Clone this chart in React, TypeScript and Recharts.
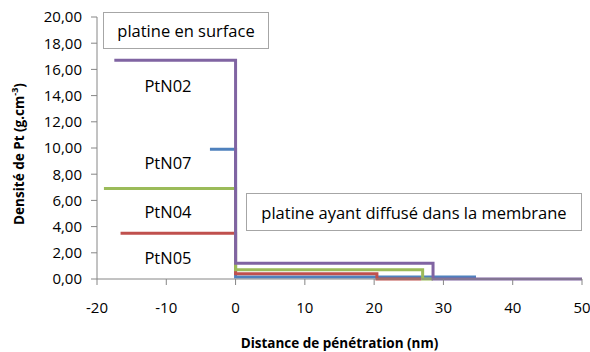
import { LineChart, Line, XAxis, YAxis } from 'recharts';

// distance (nm) and density (g.cm-3) for each sample
const ptn02X = [-17.5, 0, 0, 28.5, 28.5, 50];
const ptn02Y = [16.7, 16.7, 1.2, 1.2, 0, 0];
const ptn07X = [-3.7, 0, 0, 34.7];
const ptn07Y = [9.9, 9.9, 0.15, 0.15];
const ptn04X = [-19, 0, 0, 27, 27, 28.5];
const ptn04Y = [6.9, 6.9, 0.7, 0.7, 0, 0];
const ptn05X = [-16.6, 0, 0, 20.4, 20.4, 26.8];
const ptn05Y = [3.5, 3.5, 0.4, 0.4, 0, 0];

const xTicks = [-20, -10, 0, 10, 20, 30, 40, 50];
const yTicks = [0, 2, 4, 6, 8, 10, 12, 14, 16, 18, 20];

const toPoints = (xs: number[], ys: number[]) => xs.map((x, i) => ({ x, y: ys[i] }));

const FONT = "'Open Sans', sans-serif";
const AXIS = '#868686';

const YTitle = ({ viewBox }: any) => {
    const cx = viewBox.x + 19;
    const cy = viewBox.y + viewBox.height / 2 + 6;
    return (
        <text
            x={cx}
            y={cy}
            transform={`rotate(-90 ${cx} ${cy})`}
            textAnchor="middle"
            dominantBaseline="central"
            fontFamily={FONT}
            fontWeight="bold"
            fontSize={13.5}
            fill="#000"
        >
            Densité de Pt (g.cm
            <tspan dy={-5} fontSize={9}>-3</tspan>
            <tspan dy={5}>)</tspan>
        </text>
    );
};

const box: React.CSSProperties = {
    position: 'absolute',
    border: '1px solid #a6a6a6',
    background: '#fff',
    display: 'flex',
    alignItems: 'center',
    justifyContent: 'center',
    fontFamily: FONT,
    fontSize: 16.5,
    color: '#000',
    boxSizing: 'border-box',
    whiteSpace: 'nowrap',
};

const tag: React.CSSProperties = {
    position: 'absolute',
    width: 80,
    marginLeft: -40,
    textAlign: 'center',
    fontFamily: FONT,
    fontSize: 16.5,
    lineHeight: '20px',
    marginTop: -10,
    color: '#000',
};

export default function App() {
    return (
        <div style={{ position: 'absolute', left: 0, top: 0, width: 590, height: 352, background: '#fff' }}>
            <LineChart width={590} height={352} margin={{ top: 17, right: 8, left: 0, bottom: 0 }}>
                <XAxis
                    dataKey="x"
                    type="number"
                    domain={[-20, 50]}
                    ticks={xTicks}
                    allowDuplicatedCategory={false}
                    height={73}
                    tickSize={6}
                    tickMargin={17}
                    tick={{ fontSize: 15, fill: '#000', fontFamily: FONT }}
                    stroke={AXIS}
                    label={{
                        value: 'Distance de pénétration (nm)',
                        position: 'insideBottom',
                        offset: 4,
                        fontSize: 13.5,
                        fontWeight: 'bold',
                        fontFamily: FONT,
                        fill: '#000',
                    }}
                />
                <YAxis
                    dataKey="y"
                    type="number"
                    domain={[0, 20]}
                    ticks={yTicks}
                    width={97}
                    tickSize={6}
                    tickMargin={9}
                    tickFormatter={(v: number) => v.toFixed(2).replace('.', ',')}
                    tick={{ fontSize: 15, fill: '#000', fontFamily: FONT }}
                    stroke={AXIS}
                    label={<YTitle />}
                />
                <Line data={toPoints(ptn07X, ptn07Y)} dataKey="y" stroke="#4F81BD" strokeWidth={3} dot={false} isAnimationActive={false} />
                <Line data={toPoints(ptn05X, ptn05Y)} dataKey="y" stroke="#C0504D" strokeWidth={3} dot={false} isAnimationActive={false} />
                <Line data={toPoints(ptn04X, ptn04Y)} dataKey="y" stroke="#9BBB59" strokeWidth={3} dot={false} isAnimationActive={false} />
                <Line data={toPoints(ptn02X, ptn02Y)} dataKey="y" stroke="#8064A2" strokeWidth={3} dot={false} isAnimationActive={false} />
            </LineChart>
            <div style={{ ...box, left: 103, top: 12, width: 166, height: 37 }}>platine en surface</div>
            <div style={{ ...box, left: 246, top: 193, width: 336, height: 38 }}>platine ayant diffusé dans la membrane</div>
            <div style={{ ...tag, left: 168, top: 86 }}>PtN02</div>
            <div style={{ ...tag, left: 168, top: 163 }}>PtN07</div>
            <div style={{ ...tag, left: 168, top: 212 }}>PtN04</div>
            <div style={{ ...tag, left: 168, top: 258 }}>PtN05</div>
        </div>
    );
}
